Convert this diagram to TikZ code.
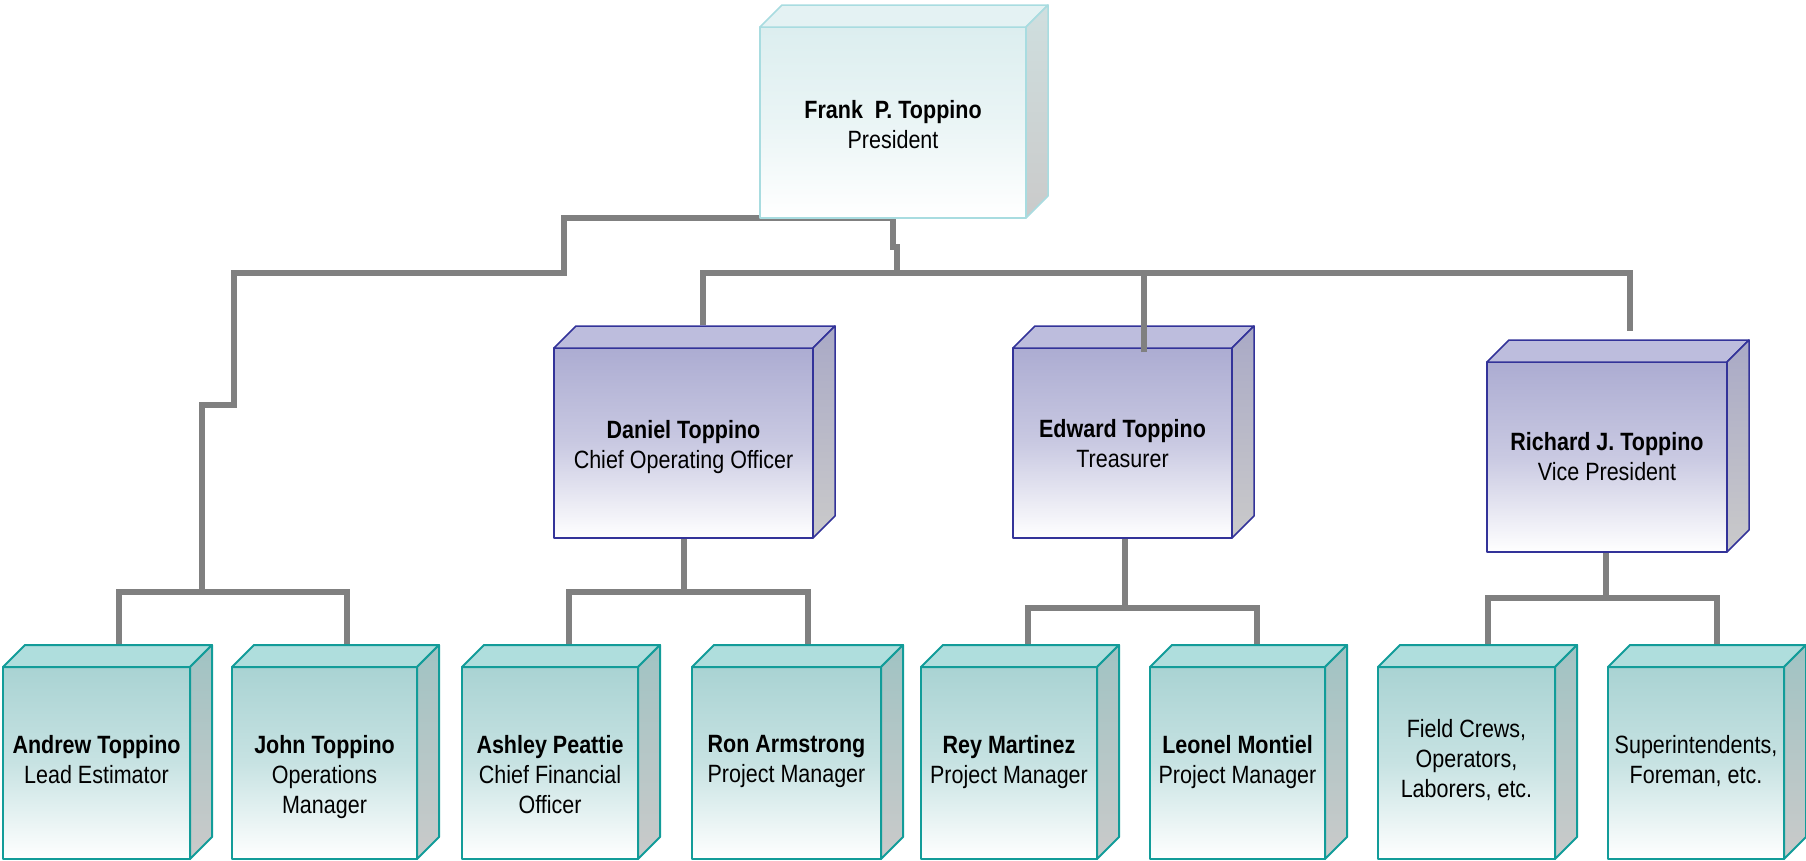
\documentclass[tikz,border=0pt]{standalone}
\usepackage{fontspec}
\setmainfont{Liberation Sans}[FakeStretch=0.86]
\usetikzlibrary{positioning,calc}

\definecolor{wiregray}{HTML}{808080}
\definecolor{presline}{HTML}{A8DCE0}
\definecolor{prestop}{HTML}{DCEEEF}
\definecolor{presface}{HTML}{E4F2F3}
\definecolor{presside}{HTML}{CFDFDF}
\definecolor{mgrline}{HTML}{333399}
\definecolor{mgrtop}{HTML}{ACACD2}
\definecolor{mgrface}{HTML}{BDBDDD}
\definecolor{mgrside}{HTML}{A9A9C6}
\definecolor{staffline}{HTML}{129C99}
\definecolor{stafftop}{HTML}{A9D3D3}
\definecolor{staffface}{HTML}{AFDEDD}
\definecolor{staffside}{HTML}{A0C3C3}
\definecolor{sidegray}{HTML}{CACACA}

% top face and right face of a box node
\newcommand{\boxsides}[4]{%
  \draw[#4, fill=#2] (#1.north west) -- ++(22,-22) -- ($(#1.north east)+(22,-22)$) -- (#1.north east) -- cycle;
  \draw[#4, top color=#3, bottom color=sidegray] (#1.north east) -- ++(22,-22) -- ($(#1.south east)+(22,-22)$) -- (#1.south east) -- cycle;
}

\tikzset{
  wire/.style={draw=wiregray, line width=6pt},
  presedge/.style={draw=presline, line width=1.5pt, line join=round},
  mgredge/.style={draw=mgrline, line width=1.5pt, line join=round},
  staffedge/.style={draw=staffline, line width=2pt, line join=round},
  presbox/.style={presedge, rectangle, outer sep=0pt, inner sep=0pt,
    top color=prestop, bottom color=white, middle color=prestop!60!white},
  mgrbox/.style={mgredge, rectangle, outer sep=0pt, inner sep=0pt,
    top color=mgrtop, bottom color=white, middle color=mgrtop!65!white},
  staffbox/.style={staffedge, rectangle, outer sep=0pt, inner sep=0pt,
    top color=stafftop, bottom color=white, middle color=stafftop!65!white},
  txt/.style={align=center, inner sep=0pt, anchor=north,
    font=\fontsize{25}{30}\selectfont},
}

\begin{document}
\begin{tikzpicture}[x=1pt, y=-1pt]
    \useasboundingbox (0,0) rectangle (1806,860);

    % junction points
    \coordinate (hub) at (897,273);
    \coordinate (jog1) at (564,273);
    \coordinate (jog2) at (234,405);
    \coordinate (fork-a) at (202,592);
    \coordinate (dan-in) at (703,325);
    \coordinate (ed-in) at (1144,352);
    \coordinate (rich-in) at (1630,331);
    \coordinate (andrew-in) at (119,645);
    \coordinate (john-in) at (347,645);
    \coordinate (ashley-in) at (569,645);
    \coordinate (ron-in) at (808,645);
    \coordinate (rey-in) at (1028,645);
    \coordinate (leonel-in) at (1257,645);
    \coordinate (field-in) at (1488,645);
    \coordinate (super-in) at (1717,645);

    % connectors
    \draw[wire] (893,218) -- ++(0,29) -| (hub);
    \draw[wire] (dan-in) -- (dan-in |- hub) -- (rich-in |- hub) -- (rich-in);
    \draw[wire] (893,218) -| (jog1) -| (jog2) -| (fork-a);
    \draw[wire] (andrew-in) |- (fork-a) -| (john-in);

    \draw[wire] (684,538) -- (684,592) coordinate (fork-d);
    \draw[wire] (ashley-in) |- (fork-d) -| (ron-in);
    \draw[wire] (1125,538) -- (1125,608) coordinate (fork-e);
    \draw[wire] (rey-in) |- (fork-e) -| (leonel-in);
    \draw[wire] (1606,552) -- (1606,598) coordinate (fork-r);
    \draw[wire] (field-in) |- (fork-r) -| (super-in);

    % president
    \node[presbox, minimum width=266pt, minimum height=191pt] (pres) at (893,122.5) {};
    \boxsides{pres}{presface}{presside}{presedge}

    % officers
    \node[mgrbox, minimum width=259pt, minimum height=190pt] (daniel) at (683.5,443) {};
    \node[mgrbox, minimum width=219pt, minimum height=190pt] (edward) at (1122.5,443) {};
    \node[mgrbox, minimum width=240pt, minimum height=190pt] (richard) at (1607,457) {};
    \boxsides{daniel}{mgrface}{mgrside}{mgredge}
    \boxsides{edward}{mgrface}{mgrside}{mgredge}
    \boxsides{richard}{mgrface}{mgrside}{mgredge}

    % staff
    \node[staffbox, minimum width=187pt, minimum height=192pt] (andrew) at (96.5,763) {};
    \node[staffbox, minimum width=185pt, minimum height=192pt] (john) at (324.5,763) {};
    \node[staffbox, minimum width=176pt, minimum height=192pt] (ashley) at (550,763) {};
    \node[staffbox, minimum width=189pt, minimum height=192pt] (ron) at (786.5,763) {};
    \node[staffbox, minimum width=176pt, minimum height=192pt] (rey) at (1009,763) {};
    \node[staffbox, minimum width=175pt, minimum height=192pt] (leonel) at (1237.5,763) {};
    \node[staffbox, minimum width=177pt, minimum height=192pt] (field) at (1466.5,763) {};
    \node[staffbox, minimum width=176pt, minimum height=192pt] (super) at (1696,763) {};
    \boxsides{andrew}{staffface}{staffside}{staffedge}
    \boxsides{john}{staffface}{staffside}{staffedge}
    \boxsides{ashley}{staffface}{staffside}{staffedge}
    \boxsides{ron}{staffface}{staffside}{staffedge}
    \boxsides{rey}{staffface}{staffside}{staffedge}
    \boxsides{leonel}{staffface}{staffside}{staffedge}
    \boxsides{field}{staffface}{staffside}{staffedge}
    \boxsides{super}{staffface}{staffside}{staffedge}

    \draw[wire] (ed-in) -- (ed-in |- hub);

    % names
    \node[txt, below=73pt of pres.north] (pres-t) {\textbf{Frank\ \ P. Toppino}\\President};
    \node[txt, below=72pt of daniel.north] (daniel-t) {\textbf{Daniel Toppino}\\Chief Operating Officer};
    \node[txt, below=71pt of edward.north] (edward-t) {\textbf{Edward Toppino}\\Treasurer};
    \node[txt, below=70pt of richard.north] (richard-t) {\textbf{Richard J. Toppino}\\Vice President};
    \node[txt, below=68pt of andrew.north] (andrew-t) {\textbf{Andrew Toppino}\\Lead Estimator};
    \node[txt, below=68pt of john.north] (john-t) {\textbf{John Toppino}\\Operations\\Manager};
    \node[txt, below=68pt of ashley.north] (ashley-t) {\textbf{Ashley Peattie}\\Chief Financial\\Officer};
    \node[txt, below=68pt of ron.north] (ron-t) {\textbf{Ron Armstrong}\\Project Manager};
    \node[txt, below=68pt of rey.north] (rey-t) {\textbf{Rey Martinez}\\Project Manager};
    \node[txt, below=68pt of leonel.north] (leonel-t) {\textbf{Leonel Montiel}\\Project Manager};
    \node[txt, below=52pt of field.north] (field-t) {Field Crews,\\Operators,\\Laborers, etc.};
    \node[txt, below=68pt of super.north] (super-t) {Superintendents,\\Foreman, etc.};
\end{tikzpicture}
\end{document}
